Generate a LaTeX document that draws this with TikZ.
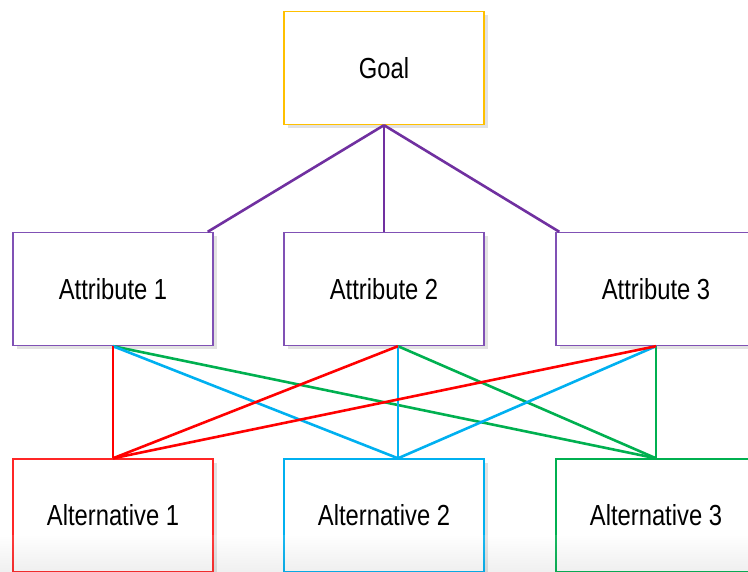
\documentclass[tikz,border=0pt]{standalone}
\usepackage{fontspec}
\setmainfont{Liberation Sans}[FakeStretch=0.82]
\usetikzlibrary{shadows}
\definecolor{cgoal}{HTML}{FFC000}
\definecolor{cattr}{HTML}{8051B5}
\definecolor{cpur}{HTML}{7030A0}
\definecolor{cred}{HTML}{FF0000}
\definecolor{cblue}{HTML}{00B0F0}
\definecolor{cgreen}{HTML}{00B050}
\definecolor{cshadow}{HTML}{E2E2E2}
\tikzset{
  box/.style={draw, line width=1.4pt, fill=white, minimum width=200pt, minimum height=113pt,
    inner sep=0pt, font=\fontsize{29}{34}\selectfont,
    general shadow={fill=cshadow, shadow xshift=4pt, shadow yshift=-4pt}},
  conn/.style={line width=2.6pt},
}
\begin{document}
\begin{tikzpicture}[x=1pt,y=-1pt]
\useasboundingbox (0,0) rectangle (748,572);
\begin{scope}
\clip (0,0) rectangle (748,572);
\node[box, draw=cgoal] (goal) at (384,68) {Goal};
\node[box, draw=cattr] (a1) at (113,289) {Attribute 1};
\node[box, draw=cattr] (a2) at (384,289) {Attribute 2};
\node[box, draw=cattr] (a3) at (656,289) {Attribute 3};
\node[box, draw=cred!85] (b1) at (113,515.5) {Alternative 1};
\node[box, draw=cblue] (b2) at (384,515.5) {Alternative 2};
\node[box, draw=cgreen] (b3) at (656,515.5) {Alternative 3};
% goal to attributes
\draw[conn, cpur] (goal.south) -- ([xshift=-6pt]a1.north east);
\draw[conn, cpur] (goal.south) -- (a2.north);
\draw[conn, cpur] (goal.south) -- ([xshift=4pt]a3.north west);
% green to alternative 3
\draw[conn, cgreen] (a1.south) -- (b3.north);
\draw[conn, cgreen] ([xshift=14pt]a2.south) -- (b3.north);
\draw[conn, cgreen] (a3.south) -- (b3.north);
% blue to alternative 2
\draw[conn, cblue] (a1.south) -- ([xshift=14pt]b2.north);
\draw[conn, cblue] ([xshift=14pt]a2.south) -- ([xshift=14pt]b2.north);
\draw[conn, cblue] (a3.south) -- ([xshift=14pt]b2.north);
% red to alternative 1
\draw[conn, cred] (a1.south) -- (b1.north);
\draw[conn, cred] ([xshift=14pt]a2.south) -- (b1.north);
\draw[conn, cred] (a3.south) -- (b1.north);
% bottom fade
\shade[top color=white, bottom color=black!60, fill opacity=0.1, draw=none] (0,535) rectangle (748,572);
\end{scope}
\end{tikzpicture}
\end{document}
